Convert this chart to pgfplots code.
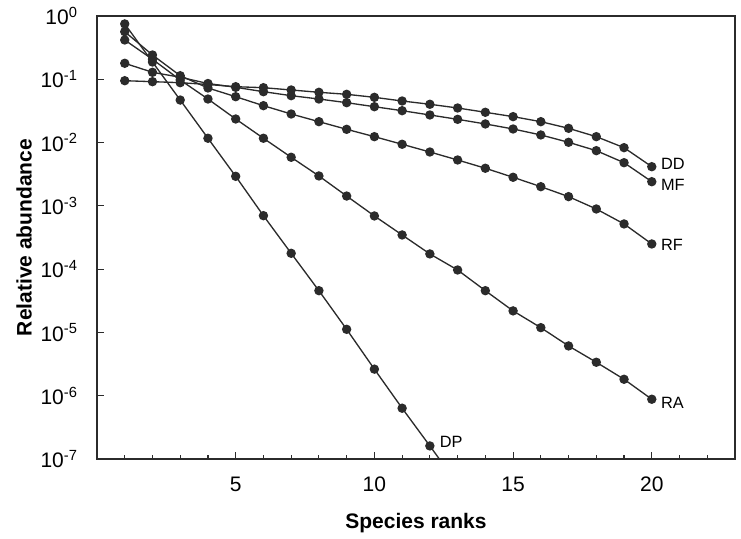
\documentclass[border=0pt]{standalone}
\usepackage{fontspec}
\setmainfont{Liberation Sans}
\usepackage{pgfplots}
\pgfplotsset{compat=1.18}
\definecolor{ink}{HTML}{2B2B2B}
\pgfplotsset{curve/.style={draw=ink, line width=0.8pt, mark=*, mark size=2.4pt, mark options={fill=ink, draw=ink, solid}}}

\begin{document}
\begin{tikzpicture}
\begin{semilogyaxis}[
  scale only axis, width=382.8pt, height=265.8pt,
  xmin=0, xmax=23, ymin=1e-7, ymax=1,
  xtick={5,10,15,20}, minor xtick={1,...,22},
  ytick={1e-7,1e-6,1e-5,1e-4,1e-3,1e-2,1e-1,1},
  yticklabels={10\textsuperscript{-7},10\textsuperscript{-6},10\textsuperscript{-5},10\textsuperscript{-4},10\textsuperscript{-3},10\textsuperscript{-2},10\textsuperscript{-1},10\textsuperscript{0}},
  yminorticks=false,
  tick pos=left, tick align=inside,
  major tick length=4pt, minor tick length=2.6pt,
  axis line style={draw=ink, line width=0.8pt},
  every tick/.style={draw=ink, line width=0.7pt},
  ticklabel style={font=\fontsize{12.6}{14}\selectfont},
  /pgf/number format/assume math mode=true,
  xticklabel style={yshift=-7pt},
  yticklabel style={xshift=-8pt},
  xlabel={Species ranks}, ylabel={Relative abundance},
  label style={font=\bfseries\fontsize{12.6}{15}\selectfont},
  xlabel style={at={(axis description cs:0.5,-0.1445)}, anchor=center},
  ylabel style={at={(axis description cs:-0.1144,0.5)}, anchor=center},
]
% DD
\addplot[curve] coordinates {(1,0.0950)(2,0.0917)(3,0.0884)(4,0.0828)(5,0.0764)(6,0.0737)(7,0.0678)(8,0.0623)(9,0.0579)(10,0.0519)(11,0.0454)(12,0.0403)(13,0.0352)(14,0.0301)(15,0.0257)(16,0.0214)(17,0.0168)(18,0.0124)(19,0.00831)(20,0.00416)};
% MF
\addplot[curve] coordinates {(1,0.179)(2,0.129)(3,0.1076)(4,0.0858)(5,0.0747)(6,0.0637)(7,0.0551)(8,0.0488)(9,0.0427)(10,0.0369)(11,0.0319)(12,0.0273)(13,0.0233)(14,0.0197)(15,0.0164)(16,0.0132)(17,0.0101)(18,0.00745)(19,0.00481)(20,0.00241)};
% RF
\addplot[curve] coordinates {(1,0.565)(2,0.242)(3,0.114)(4,0.0729)(5,0.0531)(6,0.0383)(7,0.0283)(8,0.0214)(9,0.0162)(10,0.0124)(11,0.0094)(12,0.0071)(13,0.00531)(14,0.00393)(15,0.00283)(16,0.00201)(17,0.0014)(18,0.000893)(19,0.000518)(20,0.00025)};
% RA
\addplot[curve] coordinates {(1,0.418)(2,0.207)(3,0.0975)(4,0.0488)(5,0.0236)(6,0.0117)(7,0.00586)(8,0.00297)(9,0.00143)(10,0.000693)(11,0.000347)(12,0.000174)(13,9.7e-5)(14,4.57e-5)(15,2.19e-5)(16,1.19e-5)(17,6.12e-6)(18,3.38e-6)(19,1.82e-6)(20,8.8e-7)};
% DP
\addplot[curve] coordinates {(1,0.75)(2,0.1875)(3,0.047)(4,0.0117)(5,0.00293)(6,7.0e-4)(7,1.78e-4)(8,4.57e-5)(9,1.12e-5)(10,2.63e-6)(11,6.35e-7)(12,1.61e-7)(13,4.0e-8)};

\node[anchor=west, font=\fontsize{9.8}{11}\selectfont, xshift=2pt, yshift=1.6pt] at (axis cs:20,0.00416) {DD};
\node[anchor=west, font=\fontsize{9.8}{11}\selectfont, xshift=2pt, yshift=-2pt] at (axis cs:20,0.00241) {MF};
\node[anchor=west, font=\fontsize{9.8}{11}\selectfont, xshift=2pt, yshift=-0.6pt] at (axis cs:20,0.00025) {RF};
\node[anchor=west, font=\fontsize{9.8}{11}\selectfont, xshift=2pt, yshift=-2pt] at (axis cs:20,8.8e-7) {RA};
\node[anchor=west, font=\fontsize{9.8}{11}\selectfont, xshift=2.5pt, yshift=2.6pt] at (axis cs:12,1.61e-7) {DP};
\end{semilogyaxis}
\path ([xshift=-58.2pt,yshift=-45.6pt]current axis.south west) rectangle ([xshift=3.6pt,yshift=9.6pt]current axis.north east);
\end{tikzpicture}
\end{document}
